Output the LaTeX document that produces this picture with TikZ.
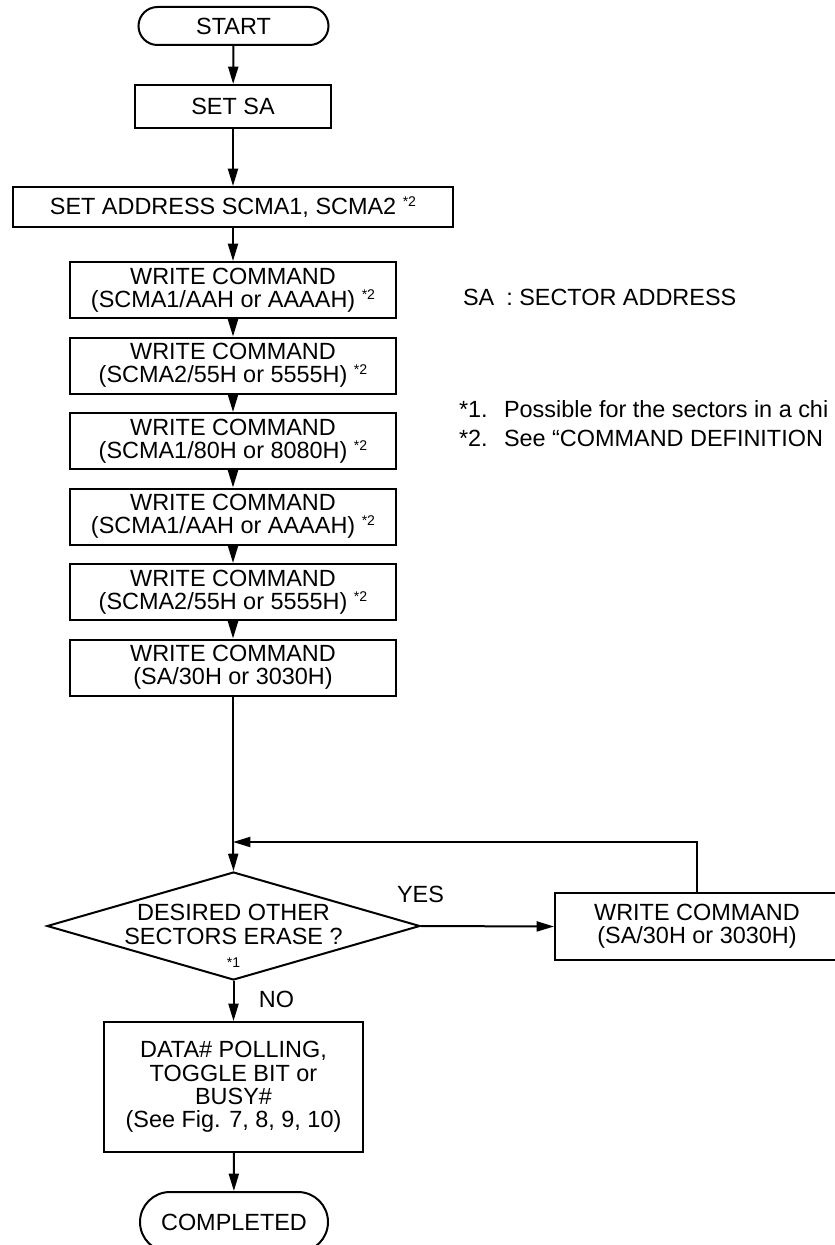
\documentclass[tikz,border=0pt]{standalone}
\usepackage{fontspec}
\setmainfont{Liberation Sans}
\usetikzlibrary{shapes.geometric,shapes.misc,arrows.meta}

\newlength\pxu
\setlength\pxu{0.3mm}
\newcommand\fnote[1]{\raisebox{7pt}{\fontsize{12}{12}\selectfont *#1}}

\tikzset{
  term/.style={rounded rectangle,draw,minimum width=190\pxu,minimum height=38\pxu},
  proc/.style={rectangle,draw,align=center,minimum width=326\pxu,minimum height=56\pxu},
  cond/.style={diamond,draw,minimum width=373\pxu,minimum height=108\pxu}
}

\begin{document}
\begin{tikzpicture}[x=\pxu,y=-\pxu,line width=0.6mm,
    font=\fontsize{20}{20}\selectfont,
    >={Triangle[length=5.2mm,width=3mm]}]
  \useasboundingbox (0,0) rectangle (835,1245);

      \begin{scope}[every node/.style={inner sep=0pt}]
        \node[term] (1)  at (233.5,26)  {START};
        \node[proc,minimum width=196\pxu,minimum height=43\pxu] (2) at (233,106.5) {SET SA};
        \node[proc,minimum width=440\pxu,minimum height=40\pxu] (3) at (233,207) {SET ADDRESS SCMA1, SCMA2 \fnote{2}};
        \node[proc] (4)  at (233,290)   {WRITE COMMAND\\(SCMA1/AAH or AAAAH) \fnote{2}};
        \node[proc] (5)  at (233,365.5) {WRITE COMMAND\\(SCMA2/55H or 5555H) \fnote{2}};
        \node[proc] (6)  at (233,441)   {WRITE COMMAND\\(SCMA1/80H or 8080H) \fnote{2}};
        \node[proc] (7)  at (233,516.5) {WRITE COMMAND\\(SCMA1/AAH or AAAAH) \fnote{2}};
        \node[proc] (8)  at (233,592)   {WRITE COMMAND\\(SCMA2/55H or 5555H) \fnote{2}};
        \node[proc] (9)  at (233,667.5) {WRITE COMMAND\\(SA/30H or 3030H)};
        \node[cond] (10) at (233.5,926) {};
        \node[align=center] (10t) at (233.5,936) {DESIRED OTHER\\SECTORS ERASE ?\\{\fontsize{12}{12}\selectfont *1}};
        \node[proc,minimum width=284\pxu,minimum height=67\pxu] (11) at (697,926.5) {WRITE COMMAND\\(SA/30H or 3030H)};
        \node[proc,minimum width=259\pxu,minimum height=130\pxu] (12) at (233.5,1087) {DATA\# POLLING,\\TOGGLE BIT or\\BUSY\#\\(See Fig. 7, 8, 9, 10)};
        \node[term,minimum width=188\pxu,minimum height=60\pxu] (13) at (234,1222) {COMPLETED};
        \coordinate (j) at (233,842);
      \end{scope}

      \node[anchor=base west,inner sep=0pt] (sa) at (462,305) {SA\hspace{12\pxu}: SECTOR ADDRESS};
      \node[anchor=base west,inner sep=0pt] (n1) at (458,417) {*1.};
      \node[anchor=base west,inner sep=0pt] (t1) at (503,417) {Possible for the sectors in a chi};
      \node[anchor=base west,inner sep=0pt] (n2) at (458,446) {*2.};
      \node[anchor=base west,inner sep=0pt] (t2) at (503,446) {See “COMMAND DEFINITION};
      \node[anchor=base,inner sep=0pt] (yes) at (420.5,902) {YES};
      \node[anchor=base,inner sep=0pt] (no)  at (276.5,1007) {NO};

      \draw[->] (1) -- (2);
      \draw[->] (2) -- (3);
      \draw[->] (3) -- (4);
      \draw[->] (4) -- (5);
      \draw[->] (5) -- (6);
      \draw[->] (6) -- (7);
      \draw[->] (7) -- (8);
      \draw[->] (8) -- (9);
      \draw (9) -- (j);
      \draw[->] (j) -- (10.north);
      \draw[->] (10.east) -- (11.west);
      \draw[->] (11.north) |- (j);
      \draw[->] (10.south) -- (12);
      \draw[->] (12) -- (13);

    \end{tikzpicture}
\end{document}
